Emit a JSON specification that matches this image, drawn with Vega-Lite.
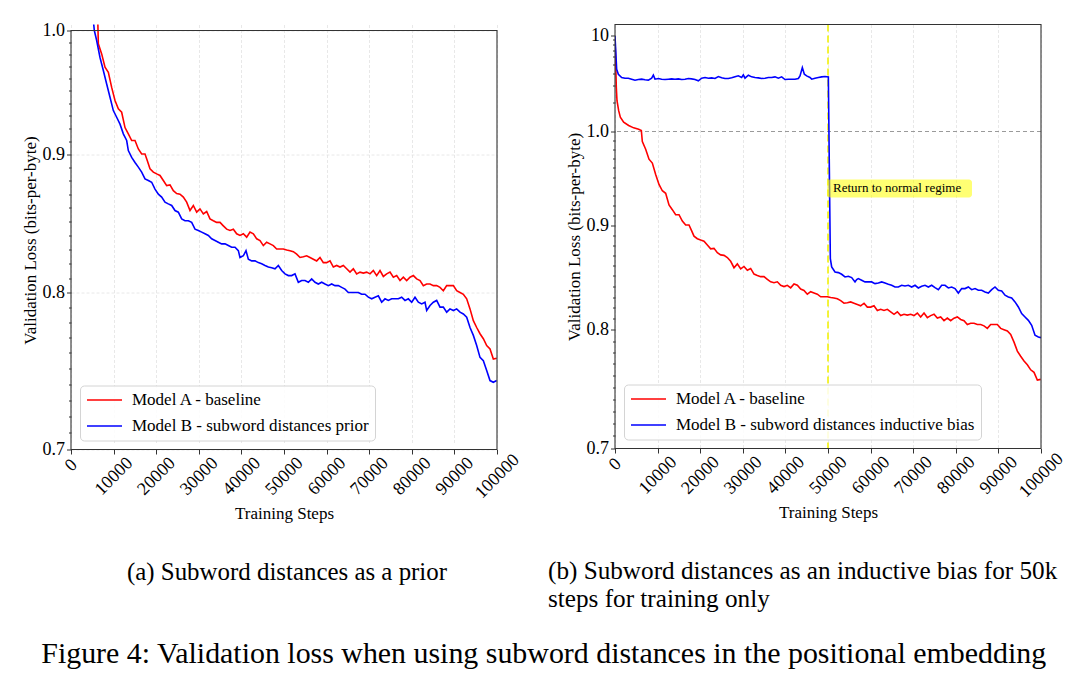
{
  "$schema": "https://vega.github.io/schema/vega-lite/v6.json",
  "background": "white",
  "padding": {"left": 21, "top": 21.5, "right": 5, "bottom": 5},
  "datasets": {
    "modelA": [
      {"step": 0, "loss": 9.5}, {"step": 310, "loss": 2.87}, {"step": 470, "loss": 2.09}, {"step": 860, "loss": 1.649},
      {"step": 1250, "loss": 1.406}, {"step": 2030, "loss": 1.249}, {"step": 3200, "loss": 1.154}, {"step": 4380, "loss": 1.091},
      {"step": 5550, "loss": 1.057}, {"step": 6180, "loss": 1.025}, {"step": 6417, "loss": 0.9887}, {"step": 7199, "loss": 0.9803},
      {"step": 7982, "loss": 0.9693}, {"step": 8764, "loss": 0.9651}, {"step": 9547, "loss": 0.9527}, {"step": 10329, "loss": 0.9422},
      {"step": 11112, "loss": 0.9355}, {"step": 11894, "loss": 0.9328}, {"step": 12677, "loss": 0.9207}, {"step": 13459, "loss": 0.9158},
      {"step": 14242, "loss": 0.9106}, {"step": 15024, "loss": 0.9106}, {"step": 15807, "loss": 0.9041}, {"step": 16589, "loss": 0.9002},
      {"step": 17372, "loss": 0.9002}, {"step": 17919, "loss": 0.895}, {"step": 18545, "loss": 0.8889}, {"step": 19328, "loss": 0.8864},
      {"step": 20110, "loss": 0.8851}, {"step": 20893, "loss": 0.8839}, {"step": 21675, "loss": 0.8801}, {"step": 22458, "loss": 0.8763},
      {"step": 23240, "loss": 0.8768}, {"step": 24023, "loss": 0.8725}, {"step": 24805, "loss": 0.8704}, {"step": 25588, "loss": 0.8699},
      {"step": 26370, "loss": 0.8678}, {"step": 27153, "loss": 0.8641}, {"step": 27935, "loss": 0.8579}, {"step": 28718, "loss": 0.8616},
      {"step": 29500, "loss": 0.8567}, {"step": 30283, "loss": 0.8591}, {"step": 31065, "loss": 0.8555}, {"step": 31848, "loss": 0.8572},
      {"step": 32630, "loss": 0.8518}, {"step": 33413, "loss": 0.8505}, {"step": 34195, "loss": 0.8493}, {"step": 34978, "loss": 0.8493},
      {"step": 35760, "loss": 0.8468}, {"step": 36543, "loss": 0.8444}, {"step": 37325, "loss": 0.8435}, {"step": 38108, "loss": 0.8444},
      {"step": 38890, "loss": 0.8411}, {"step": 39673, "loss": 0.8399}, {"step": 40455, "loss": 0.8411}, {"step": 41238, "loss": 0.8387},
      {"step": 42020, "loss": 0.8423}, {"step": 42803, "loss": 0.8411}, {"step": 43585, "loss": 0.8375}, {"step": 44368, "loss": 0.8363},
      {"step": 45150, "loss": 0.8327}, {"step": 45933, "loss": 0.8351}, {"step": 46715, "loss": 0.8339}, {"step": 47498, "loss": 0.8327},
      {"step": 48280, "loss": 0.8303}, {"step": 49063, "loss": 0.8303}, {"step": 49845, "loss": 0.8303}, {"step": 50628, "loss": 0.8296},
      {"step": 51410, "loss": 0.8291}, {"step": 52193, "loss": 0.8284}, {"step": 52975, "loss": 0.8267}, {"step": 53758, "loss": 0.8243},
      {"step": 54540, "loss": 0.8248}, {"step": 55323, "loss": 0.8255}, {"step": 56105, "loss": 0.8243}, {"step": 56888, "loss": 0.8231},
      {"step": 57670, "loss": 0.8219}, {"step": 58453, "loss": 0.8243}, {"step": 59235, "loss": 0.8207}, {"step": 60018, "loss": 0.8207},
      {"step": 60800, "loss": 0.8219}, {"step": 61583, "loss": 0.8176}, {"step": 62365, "loss": 0.8187}, {"step": 63148, "loss": 0.8176},
      {"step": 63930, "loss": 0.8187}, {"step": 64713, "loss": 0.8164}, {"step": 65495, "loss": 0.8141}, {"step": 66278, "loss": 0.8164},
      {"step": 67060, "loss": 0.8129}, {"step": 67843, "loss": 0.8141}, {"step": 68625, "loss": 0.8134}, {"step": 69408, "loss": 0.8141},
      {"step": 70190, "loss": 0.8129}, {"step": 70973, "loss": 0.8152}, {"step": 71755, "loss": 0.8117}, {"step": 72538, "loss": 0.8152},
      {"step": 73320, "loss": 0.8111}, {"step": 74103, "loss": 0.8129}, {"step": 74885, "loss": 0.8141}, {"step": 75668, "loss": 0.8106},
      {"step": 76450, "loss": 0.8117}, {"step": 77233, "loss": 0.8083}, {"step": 78015, "loss": 0.8106}, {"step": 78798, "loss": 0.8083},
      {"step": 79580, "loss": 0.8106}, {"step": 80363, "loss": 0.8117}, {"step": 81145, "loss": 0.8094}, {"step": 81928, "loss": 0.8083},
      {"step": 82710, "loss": 0.8048}, {"step": 83493, "loss": 0.8059}, {"step": 84275, "loss": 0.8059}, {"step": 85058, "loss": 0.8048},
      {"step": 85840, "loss": 0.8048}, {"step": 86623, "loss": 0.8036}, {"step": 87405, "loss": 0.8013}, {"step": 88188, "loss": 0.8048},
      {"step": 88970, "loss": 0.8048}, {"step": 89753, "loss": 0.8048}, {"step": 90535, "loss": 0.8013}, {"step": 91318, "loss": 0.8001},
      {"step": 92100, "loss": 0.7989}, {"step": 92883, "loss": 0.7958}, {"step": 93665, "loss": 0.789}, {"step": 94448, "loss": 0.7811},
      {"step": 95230, "loss": 0.7766}, {"step": 96013, "loss": 0.7725}, {"step": 96795, "loss": 0.7692}, {"step": 97578, "loss": 0.7648},
      {"step": 98360, "loss": 0.7626}, {"step": 99143, "loss": 0.756}, {"step": 99925, "loss": 0.7566}
    ],
    "priorB": [
      {"step": 4800, "loss": 1.025}, {"step": 5478, "loss": 1.0}, {"step": 6025, "loss": 0.9915}, {"step": 6808, "loss": 0.9773},
      {"step": 7590, "loss": 0.9665}, {"step": 8373, "loss": 0.9555}, {"step": 9155, "loss": 0.9448}, {"step": 9938, "loss": 0.9341},
      {"step": 10720, "loss": 0.9288}, {"step": 11503, "loss": 0.9234}, {"step": 12285, "loss": 0.9158}, {"step": 13068, "loss": 0.9106},
      {"step": 13459, "loss": 0.9028}, {"step": 14242, "loss": 0.8976}, {"step": 15024, "loss": 0.8937}, {"step": 15807, "loss": 0.8902},
      {"step": 16589, "loss": 0.8864}, {"step": 17372, "loss": 0.8813}, {"step": 18154, "loss": 0.8801}, {"step": 18937, "loss": 0.8788},
      {"step": 19719, "loss": 0.8737}, {"step": 20502, "loss": 0.8699}, {"step": 21284, "loss": 0.8678}, {"step": 22067, "loss": 0.8641},
      {"step": 22849, "loss": 0.8628}, {"step": 23632, "loss": 0.8616}, {"step": 24414, "loss": 0.8579}, {"step": 25197, "loss": 0.8567},
      {"step": 25979, "loss": 0.8518}, {"step": 26762, "loss": 0.8505}, {"step": 27544, "loss": 0.8505}, {"step": 28327, "loss": 0.8493},
      {"step": 29109, "loss": 0.8444}, {"step": 29892, "loss": 0.8435}, {"step": 30674, "loss": 0.8423}, {"step": 31457, "loss": 0.8411},
      {"step": 32239, "loss": 0.8399}, {"step": 33022, "loss": 0.8375}, {"step": 33804, "loss": 0.8363}, {"step": 34587, "loss": 0.8351},
      {"step": 35369, "loss": 0.8339}, {"step": 36152, "loss": 0.8339}, {"step": 36934, "loss": 0.8327}, {"step": 37717, "loss": 0.8315},
      {"step": 38499, "loss": 0.8315}, {"step": 39282, "loss": 0.8291}, {"step": 39673, "loss": 0.8243}, {"step": 40455, "loss": 0.8255},
      {"step": 41081, "loss": 0.8291}, {"step": 41629, "loss": 0.8231}, {"step": 42412, "loss": 0.8219}, {"step": 43194, "loss": 0.8219},
      {"step": 43977, "loss": 0.8207}, {"step": 44759, "loss": 0.8199}, {"step": 45542, "loss": 0.8187}, {"step": 46324, "loss": 0.8176},
      {"step": 47107, "loss": 0.8171}, {"step": 47889, "loss": 0.8164}, {"step": 48672, "loss": 0.8187}, {"step": 49454, "loss": 0.8152},
      {"step": 50237, "loss": 0.8129}, {"step": 51019, "loss": 0.8117}, {"step": 51802, "loss": 0.8117}, {"step": 52584, "loss": 0.8129},
      {"step": 53367, "loss": 0.8071}, {"step": 54149, "loss": 0.8083}, {"step": 54932, "loss": 0.8083}, {"step": 55714, "loss": 0.8071},
      {"step": 56497, "loss": 0.8094}, {"step": 57279, "loss": 0.8071}, {"step": 58062, "loss": 0.8059}, {"step": 58844, "loss": 0.8071},
      {"step": 59627, "loss": 0.8059}, {"step": 60409, "loss": 0.8048}, {"step": 61192, "loss": 0.8059}, {"step": 61974, "loss": 0.8048},
      {"step": 62757, "loss": 0.8048}, {"step": 63539, "loss": 0.8036}, {"step": 64322, "loss": 0.8024}, {"step": 65104, "loss": 0.8001},
      {"step": 65887, "loss": 0.8001}, {"step": 66669, "loss": 0.8001}, {"step": 67452, "loss": 0.8001}, {"step": 68234, "loss": 0.7989},
      {"step": 69017, "loss": 0.7989}, {"step": 69799, "loss": 0.7969}, {"step": 70582, "loss": 0.7958}, {"step": 71364, "loss": 0.7969},
      {"step": 72147, "loss": 0.7978}, {"step": 72929, "loss": 0.7935}, {"step": 73712, "loss": 0.7958}, {"step": 74494, "loss": 0.7947},
      {"step": 75277, "loss": 0.7958}, {"step": 76059, "loss": 0.7958}, {"step": 76842, "loss": 0.7958}, {"step": 77624, "loss": 0.7969},
      {"step": 78407, "loss": 0.7947}, {"step": 79189, "loss": 0.7958}, {"step": 79972, "loss": 0.7935}, {"step": 80754, "loss": 0.7969},
      {"step": 81537, "loss": 0.7935}, {"step": 82319, "loss": 0.7924}, {"step": 83102, "loss": 0.7935}, {"step": 83493, "loss": 0.7879},
      {"step": 84275, "loss": 0.7913}, {"step": 85058, "loss": 0.7935}, {"step": 85840, "loss": 0.7947}, {"step": 86623, "loss": 0.7902},
      {"step": 87405, "loss": 0.7902}, {"step": 88188, "loss": 0.7868}, {"step": 88970, "loss": 0.789}, {"step": 89753, "loss": 0.7879},
      {"step": 90535, "loss": 0.789}, {"step": 91318, "loss": 0.7868}, {"step": 92100, "loss": 0.7856}, {"step": 92883, "loss": 0.7834},
      {"step": 93665, "loss": 0.7766}, {"step": 94448, "loss": 0.7714}, {"step": 95230, "loss": 0.7648}, {"step": 96013, "loss": 0.7571},
      {"step": 96795, "loss": 0.7549}, {"step": 97578, "loss": 0.7487}, {"step": 98360, "loss": 0.7423}, {"step": 99143, "loss": 0.7412},
      {"step": 99925, "loss": 0.7423}
    ],
    "biasB": [
      {"step": 0, "loss": 9.84}, {"step": 391, "loss": 4.448}, {"step": 783, "loss": 3.95}, {"step": 1565, "loss": 3.648},
      {"step": 2348, "loss": 3.59}, {"step": 3130, "loss": 3.59}, {"step": 3913, "loss": 3.505}, {"step": 4695, "loss": 3.423},
      {"step": 5478, "loss": 3.477}, {"step": 6260, "loss": 3.505}, {"step": 7043, "loss": 3.451}, {"step": 7825, "loss": 3.423},
      {"step": 8608, "loss": 3.59}, {"step": 8999, "loss": 3.857}, {"step": 9390, "loss": 3.505}, {"step": 10173, "loss": 3.562},
      {"step": 10955, "loss": 3.505}, {"step": 11738, "loss": 3.477}, {"step": 12520, "loss": 3.505}, {"step": 13303, "loss": 3.533},
      {"step": 14085, "loss": 3.505}, {"step": 14868, "loss": 3.533}, {"step": 15650, "loss": 3.477}, {"step": 16433, "loss": 3.505},
      {"step": 17215, "loss": 3.562}, {"step": 17998, "loss": 3.533}, {"step": 18780, "loss": 3.477}, {"step": 19563, "loss": 3.369},
      {"step": 20345, "loss": 3.59}, {"step": 21128, "loss": 3.648}, {"step": 21910, "loss": 3.59}, {"step": 22693, "loss": 3.619},
      {"step": 23475, "loss": 3.562}, {"step": 24258, "loss": 3.736}, {"step": 25040, "loss": 3.619}, {"step": 25823, "loss": 3.562},
      {"step": 26605, "loss": 3.562}, {"step": 27388, "loss": 3.619}, {"step": 28170, "loss": 3.706}, {"step": 28953, "loss": 3.796},
      {"step": 29735, "loss": 3.648}, {"step": 30126, "loss": 3.887}, {"step": 30518, "loss": 3.59}, {"step": 31300, "loss": 3.857},
      {"step": 32083, "loss": 3.706}, {"step": 32865, "loss": 3.648}, {"step": 33648, "loss": 3.619}, {"step": 34430, "loss": 3.562},
      {"step": 35213, "loss": 3.59}, {"step": 35995, "loss": 3.648}, {"step": 36778, "loss": 3.648}, {"step": 37560, "loss": 3.706},
      {"step": 38343, "loss": 3.59}, {"step": 39125, "loss": 3.706}, {"step": 39908, "loss": 3.477}, {"step": 40690, "loss": 3.505},
      {"step": 41473, "loss": 3.505}, {"step": 42255, "loss": 3.505}, {"step": 43038, "loss": 3.562}, {"step": 43429, "loss": 3.796},
      {"step": 43977, "loss": 4.63}, {"step": 44446, "loss": 3.95}, {"step": 44994, "loss": 3.796}, {"step": 45776, "loss": 3.648},
      {"step": 46168, "loss": 3.505}, {"step": 46950, "loss": 3.59}, {"step": 47733, "loss": 3.648}, {"step": 48515, "loss": 3.706},
      {"step": 49298, "loss": 3.736}, {"step": 50080, "loss": 3.706}, {"step": 50550, "loss": 0.8666}, {"step": 50863, "loss": 0.8586},
      {"step": 51645, "loss": 0.8538}, {"step": 52428, "loss": 0.8532}, {"step": 53210, "loss": 0.8516}, {"step": 53993, "loss": 0.849},
      {"step": 54775, "loss": 0.8497}, {"step": 55558, "loss": 0.8484}, {"step": 56340, "loss": 0.8443}, {"step": 56731, "loss": 0.8465},
      {"step": 57123, "loss": 0.8475}, {"step": 57905, "loss": 0.8459}, {"step": 58688, "loss": 0.8443}, {"step": 59470, "loss": 0.8443},
      {"step": 60253, "loss": 0.8443}, {"step": 61035, "loss": 0.8427}, {"step": 61818, "loss": 0.8433}, {"step": 62600, "loss": 0.8443},
      {"step": 63383, "loss": 0.8433}, {"step": 64165, "loss": 0.842}, {"step": 64948, "loss": 0.8411}, {"step": 65730, "loss": 0.8395},
      {"step": 66513, "loss": 0.8395}, {"step": 67295, "loss": 0.8411}, {"step": 68078, "loss": 0.8404}, {"step": 68860, "loss": 0.8411},
      {"step": 69643, "loss": 0.8395}, {"step": 70425, "loss": 0.8411}, {"step": 71208, "loss": 0.8386}, {"step": 71990, "loss": 0.8401},
      {"step": 72773, "loss": 0.8411}, {"step": 73555, "loss": 0.8395}, {"step": 74338, "loss": 0.8411}, {"step": 75120, "loss": 0.8389},
      {"step": 75903, "loss": 0.837}, {"step": 76685, "loss": 0.8411}, {"step": 77468, "loss": 0.8411}, {"step": 78250, "loss": 0.8386},
      {"step": 79033, "loss": 0.8395}, {"step": 79815, "loss": 0.838}, {"step": 80598, "loss": 0.8338}, {"step": 81380, "loss": 0.838},
      {"step": 82163, "loss": 0.838}, {"step": 82945, "loss": 0.8395}, {"step": 83728, "loss": 0.837}, {"step": 84510, "loss": 0.838},
      {"step": 85293, "loss": 0.8364}, {"step": 86075, "loss": 0.8364}, {"step": 86858, "loss": 0.8348}, {"step": 87640, "loss": 0.8338},
      {"step": 88423, "loss": 0.837}, {"step": 89205, "loss": 0.8395}, {"step": 89988, "loss": 0.8364}, {"step": 90770, "loss": 0.8358},
      {"step": 91553, "loss": 0.8318}, {"step": 92335, "loss": 0.8302}, {"step": 93118, "loss": 0.8292}, {"step": 93900, "loss": 0.8255},
      {"step": 94683, "loss": 0.8208}, {"step": 95465, "loss": 0.8147}, {"step": 96248, "loss": 0.8116}, {"step": 97030, "loss": 0.8086},
      {"step": 97813, "loss": 0.8041}, {"step": 98595, "loss": 0.7951}, {"step": 99378, "loss": 0.7936}, {"step": 100000, "loss": 0.793}
    ]
  },
  "title": {
    "text": "Figure 4: Validation loss when using subword distances in the positional embedding",
    "orient": "bottom",
    "anchor": "middle",
    "font": "Liberation Serif",
    "fontSize": 29.9,
    "fontWeight": "normal",
    "color": "#000000",
    "offset": 26
  },
  "spacing": 25,
  "resolve": {"scale": {"color": "independent"}, "legend": {"color": "independent"}},
  "hconcat": [
    {
      "width": 426,
      "height": 425,
      "view": {"stroke": null},
      "title": {
        "text": "(a) Subword distances as a prior",
        "orient": "bottom",
        "anchor": "middle",
        "frame": "group",
        "font": "Liberation Serif",
        "fontSize": 24.9,
        "fontWeight": "normal",
        "dx": 3,
        "offset": 39
      },
      "resolve": {"axis": {"y": "independent"}},
      "layer": [
        {
          "data": {"name": "modelA"},
          "mark": {"type": "line", "clip": true, "strokeWidth": 1.6},
          "encoding": {
            "x": {
              "field": "step", "type": "quantitative",
              "scale": {"domain": [0, 100000], "nice": false},
              "axis": {"title": "Training Steps", "values": [0, 10000, 20000, 30000, 40000, 50000, 60000, 70000, 80000, 90000, 100000], "format": "d",
                "labelPadding": {"condition": {"test": "datum.value == 0", "value": 11}, "value": 22}}
            },
            "y": {
              "field": "loss", "type": "quantitative",
              "scale": {"type": "log", "domain": [0.7, 1.0], "range": [425, 6], "nice": false},
              "axis": {"orient": "left", "title": "Validation Loss (bits-per-byte)", "values": [0.7, 0.8, 0.9, 1.0], "labelExpr": "format(datum.value, '.1f')"}
            },
            "color": {
              "datum": "Model A - baseline",
              "scale": {"domain": ["Model A - baseline", "Model B - subword distances prior"], "range": ["#ff0000", "#0000ff"]},
              "legend": {"orient": "bottom-left"}
            }
          }
        },
        {
          "data": {"name": "priorB"},
          "mark": {"type": "line", "clip": true, "strokeWidth": 1.6},
          "encoding": {
            "x": {"field": "step", "type": "quantitative"},
            "y": {
              "field": "loss", "type": "quantitative",
              "axis": {"orient": "left", "title": null, "labels": false, "domain": false, "tickSize": 2.5, "gridColor": "#f1f1f1", "gridWidth": 0.6,
                "values": [0.71, 0.72, 0.73, 0.74, 0.75, 0.76, 0.77, 0.78, 0.79, 0.81, 0.82, 0.83, 0.84, 0.85, 0.86, 0.87, 0.88, 0.89, 0.91, 0.92, 0.93, 0.94, 0.95, 0.96, 0.97, 0.98, 0.99]}
            },
            "color": {"datum": "Model B - subword distances prior"}
          }
        },
        {
          "data": {"values": [{}]},
          "mark": {"type": "rect", "filled": false, "stroke": "#333333", "strokeWidth": 1.1},
          "encoding": {
            "x": {"datum": 0, "type": "quantitative"},
            "x2": {"datum": 100000},
            "y": {"datum": 0.7, "type": "quantitative", "axis": null},
            "y2": {"datum": 1.0}
          }
        }
      ]
    },
    {
      "width": 426,
      "height": 424,
      "view": {"stroke": null},
      "title": {
        "text": ["(b) Subword distances as an inductive bias for 50k", "steps for training only"],
        "orient": "bottom",
        "anchor": "start",
        "frame": "group",
        "align": "left",
        "font": "Liberation Serif",
        "fontSize": 25.2,
        "fontWeight": "normal",
        "dx": -67,
        "offset": 39
      },
      "resolve": {"axis": {"y": "independent"}},
      "layer": [
        {
          "data": {"values": [{}]},
          "mark": {"type": "rule", "color": "#9a9a9a", "strokeDash": [4, 3], "strokeWidth": 1},
          "encoding": {"y": {"datum": 1, "type": "quantitative", "axis": null}}
        },
        {
          "data": {"values": [{}]},
          "mark": {"type": "rule", "color": "#f2f20a", "strokeDash": [7, 4], "strokeWidth": 1.6},
          "encoding": {"x": {"datum": 50000, "type": "quantitative"}}
        },
        {
          "data": {"name": "modelA"},
          "mark": {"type": "line", "clip": true, "strokeWidth": 1.6},
          "encoding": {
            "x": {
              "field": "step", "type": "quantitative",
              "scale": {"domain": [0, 100000], "nice": false},
              "axis": {"title": "Training Steps", "values": [0, 10000, 20000, 30000, 40000, 50000, 60000, 70000, 80000, 90000, 100000], "format": "d",
                "labelPadding": {"condition": {"test": "datum.value == 0", "value": 11}, "value": 22}}
            },
            "y": {
              "field": "loss", "type": "quantitative",
              "scale": {"type": "log", "domain": [0.7, 1.0, 13], "range": [424, 107, 0], "nice": false},
              "axis": {"orient": "left", "title": "Validation Loss (bits-per-byte)", "values": [0.7, 0.8, 0.9, 1.0, 10], "labelExpr": "datum.value >= 10 ? '10' : format(datum.value, '.1f')"}
            },
            "color": {
              "datum": "Model A - baseline",
              "scale": {"domain": ["Model A - baseline", "Model B - subword distances inductive bias"], "range": ["#ff0000", "#0000ff"]},
              "legend": {"orient": "bottom-left"}
            }
          }
        },
        {
          "data": {"name": "biasB"},
          "mark": {"type": "line", "clip": true, "strokeWidth": 1.6},
          "encoding": {
            "x": {"field": "step", "type": "quantitative"},
            "y": {
              "field": "loss", "type": "quantitative",
              "axis": {"orient": "left", "title": null, "labels": false, "domain": false, "tickSize": 2.5, "gridColor": "#f1f1f1", "gridWidth": 0.6,
                "values": [0.71, 0.72, 0.73, 0.74, 0.75, 0.76, 0.77, 0.78, 0.79, 0.81, 0.82, 0.83, 0.84, 0.85, 0.86, 0.87, 0.88, 0.89, 0.91, 0.92, 0.93, 0.94, 0.95, 0.96, 0.97, 0.98, 0.99, 2, 3, 4, 5, 6, 7, 8, 9]}
            },
            "color": {"datum": "Model B - subword distances inductive bias"}
          }
        },
        {
          "data": {"values": [{}]},
          "mark": {"type": "rect", "color": "#ffff00", "opacity": 0.55, "cornerRadius": 3},
          "encoding": {
            "x": {"datum": 49800, "type": "quantitative"},
            "x2": {"datum": 83800},
            "y": {"datum": 0.9474, "type": "quantitative", "axis": null},
            "y2": {"datum": 0.9284}
          }
        },
        {
          "data": {"values": [{}]},
          "mark": {"type": "text", "text": "Return to normal regime", "align": "left", "baseline": "middle", "dx": 5, "font": "Liberation Serif", "fontSize": 13, "color": "#000000"},
          "encoding": {
            "x": {"datum": 50000, "type": "quantitative"},
            "y": {"datum": 0.9389, "type": "quantitative", "axis": null}
          }
        },
        {
          "data": {"values": [{}]},
          "mark": {"type": "rect", "filled": false, "stroke": "#333333", "strokeWidth": 1.1},
          "encoding": {
            "x": {"datum": 0, "type": "quantitative"},
            "x2": {"datum": 100000},
            "y": {"datum": 0.7, "type": "quantitative", "axis": null},
            "y2": {"datum": 13}
          }
        }
      ]
    }
  ],
  "config": {
    "font": "Liberation Serif",
    "view": {"stroke": "#333333", "strokeWidth": 1.1},
    "title": {"font": "Liberation Serif", "fontSize": 25.2, "fontWeight": "normal", "color": "#000000", "lineHeight": 28},
    "axis": {
      "domain": false,
      "grid": true,
      "gridColor": "#e2e2e2",
      "gridDash": [3, 2],
      "gridWidth": 0.8,
      "tickColor": "#333333",
      "tickSize": 4.5,
      "labelFont": "Liberation Serif",
      "labelFontSize": 18,
      "labelColor": "#000000",
      "labelPadding": 2,
      "titleFont": "Liberation Serif",
      "titleFontSize": 17,
      "titleFontWeight": "normal",
      "titleColor": "#000000",
      "titlePadding": 3
    },
    "axisX": {
      "labelAngle": -45,
      "labelAlign": "center",
      "labelBaseline": "middle",
      "labelOverlap": false,
      "titlePadding": 4
    },
    "legend": {
      "title": null,
      "offset": 9,
      "symbolType": "M-3.5,0H3.5",
      "symbolSize": 100,
      "symbolOffset": 10,
      "symbolStrokeWidth": 1.6,
      "labelFont": "Liberation Serif",
      "labelFontSize": 17,
      "labelColor": "#000000",
      "labelOffset": 19,
      "rowPadding": 8,
      "padding": 6,
      "fillColor": "rgba(255,255,255,0.85)",
      "strokeColor": "#d4d4d4",
      "cornerRadius": 4,
      "labelLimit": 0
    }
  }
}
